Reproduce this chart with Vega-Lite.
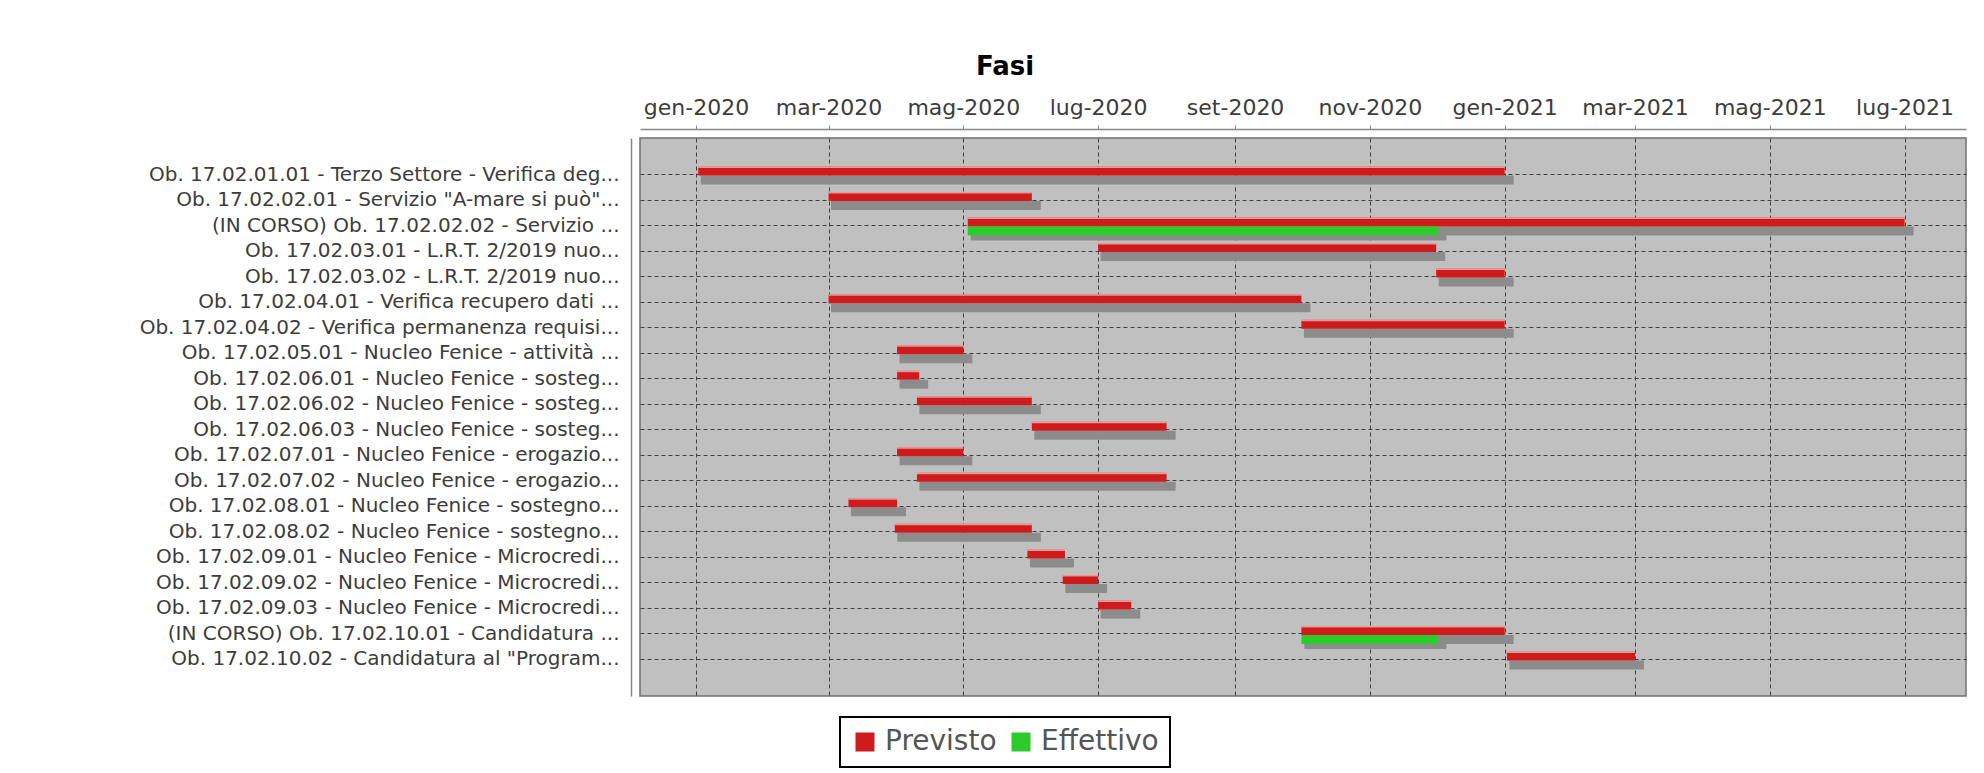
{
  "$schema": "https://vega.github.io/schema/vega-lite/v6.json",
  "autosize": {"type": "none"},
  "padding": {"left": 640, "top": 138, "right": 18, "bottom": 77},
  "width": 1326,
  "height": 558,
  "background": "white",
  "title": {"text": "Fasi", "font": "DejaVu Sans", "fontSize": 26, "fontWeight": "bold", "color": "#000000", "anchor": "middle", "frame": "group", "dx": -298, "offset": 16},
  "config": {"view": {"fill": "#c0c0c0", "stroke": "#707070", "strokeWidth": 1.5}, "font": "DejaVu Sans", "legend": {"strokeWidth": 2}},
  "data": {"values": [
    {"task": "Ob. 17.02.01.01 - Terzo Settore - Verifica deg...", "serie": "Previsto", "start": "2020-01-02", "end": "2021-01-01"},
    {"task": "Ob. 17.02.02.01 - Servizio \"A-mare si può\"...", "serie": "Previsto", "start": "2020-03-01", "end": "2020-06-01"},
    {"task": "(IN CORSO) Ob. 17.02.02.02 - Servizio ...", "serie": "Previsto", "start": "2020-05-03", "end": "2021-07-01"},
    {"task": "(IN CORSO) Ob. 17.02.02.02 - Servizio ...", "serie": "Effettivo", "start": "2020-05-03", "end": "2020-12-02"},
    {"task": "Ob. 17.02.03.01 - L.R.T.  2/2019 nuo...", "serie": "Previsto", "start": "2020-07-01", "end": "2020-12-01"},
    {"task": "Ob. 17.02.03.02 - L.R.T. 2/2019 nuo...", "serie": "Previsto", "start": "2020-12-01", "end": "2021-01-01"},
    {"task": "Ob. 17.02.04.01 - Verifica recupero dati ...", "serie": "Previsto", "start": "2020-03-01", "end": "2020-10-01"},
    {"task": "Ob. 17.02.04.02 - Verifica permanenza requisi...", "serie": "Previsto", "start": "2020-10-01", "end": "2021-01-01"},
    {"task": "Ob. 17.02.05.01 - Nucleo Fenice - attività ...", "serie": "Previsto", "start": "2020-04-01", "end": "2020-05-01"},
    {"task": "Ob. 17.02.06.01 - Nucleo Fenice - sosteg...", "serie": "Previsto", "start": "2020-04-01", "end": "2020-04-11"},
    {"task": "Ob. 17.02.06.02 - Nucleo Fenice - sosteg...", "serie": "Previsto", "start": "2020-04-10", "end": "2020-06-01"},
    {"task": "Ob. 17.02.06.03 - Nucleo Fenice - sosteg...", "serie": "Previsto", "start": "2020-06-01", "end": "2020-08-01"},
    {"task": "Ob. 17.02.07.01 - Nucleo Fenice - erogazio...", "serie": "Previsto", "start": "2020-04-01", "end": "2020-05-01"},
    {"task": "Ob. 17.02.07.02 - Nucleo Fenice - erogazio...", "serie": "Previsto", "start": "2020-04-10", "end": "2020-08-01"},
    {"task": "Ob. 17.02.08.01 - Nucleo Fenice - sostegno...", "serie": "Previsto", "start": "2020-03-10", "end": "2020-04-01"},
    {"task": "Ob. 17.02.08.02 - Nucleo Fenice - sostegno...", "serie": "Previsto", "start": "2020-03-31", "end": "2020-06-01"},
    {"task": "Ob. 17.02.09.01 - Nucleo Fenice - Microcredi...", "serie": "Previsto", "start": "2020-05-30", "end": "2020-06-16"},
    {"task": "Ob. 17.02.09.02 - Nucleo Fenice - Microcredi...", "serie": "Previsto", "start": "2020-06-15", "end": "2020-07-01"},
    {"task": "Ob. 17.02.09.03 - Nucleo Fenice - Microcredi...", "serie": "Previsto", "start": "2020-07-01", "end": "2020-07-16"},
    {"task": "(IN CORSO) Ob. 17.02.10.01 - Candidatura ...", "serie": "Previsto", "start": "2020-10-01", "end": "2021-01-01"},
    {"task": "(IN CORSO) Ob. 17.02.10.01 - Candidatura ...", "serie": "Effettivo", "start": "2020-10-01", "end": "2020-12-02"},
    {"task": "Ob. 17.02.10.02 - Candidatura al \"Program...", "serie": "Previsto", "start": "2021-01-02", "end": "2021-03-01"}
  ]},
  "encoding": {
    "y": {
      "field": "task", "type": "nominal",
      "scale": {"paddingInner": 0, "paddingOuter": 0.93, "domain": [
        "Ob. 17.02.01.01 - Terzo Settore - Verifica deg...",
        "Ob. 17.02.02.01 - Servizio \"A-mare si può\"...",
        "(IN CORSO) Ob. 17.02.02.02 - Servizio ...",
        "Ob. 17.02.03.01 - L.R.T.  2/2019 nuo...",
        "Ob. 17.02.03.02 - L.R.T. 2/2019 nuo...",
        "Ob. 17.02.04.01 - Verifica recupero dati ...",
        "Ob. 17.02.04.02 - Verifica permanenza requisi...",
        "Ob. 17.02.05.01 - Nucleo Fenice - attività ...",
        "Ob. 17.02.06.01 - Nucleo Fenice - sosteg...",
        "Ob. 17.02.06.02 - Nucleo Fenice - sosteg...",
        "Ob. 17.02.06.03 - Nucleo Fenice - sosteg...",
        "Ob. 17.02.07.01 - Nucleo Fenice - erogazio...",
        "Ob. 17.02.07.02 - Nucleo Fenice - erogazio...",
        "Ob. 17.02.08.01 - Nucleo Fenice - sostegno...",
        "Ob. 17.02.08.02 - Nucleo Fenice - sostegno...",
        "Ob. 17.02.09.01 - Nucleo Fenice - Microcredi...",
        "Ob. 17.02.09.02 - Nucleo Fenice - Microcredi...",
        "Ob. 17.02.09.03 - Nucleo Fenice - Microcredi...",
        "(IN CORSO) Ob. 17.02.10.01 - Candidatura ...",
        "Ob. 17.02.10.02 - Candidatura al \"Program..."
      ]},
      "axis": {"title": null, "orient": "left", "offset": 9, "labelFontSize": 20, "labelColor": "#3c3c3c", "labelPadding": 12, "labelLimit": 0, "ticks": false, "domainColor": "#888888", "domainWidth": 1.5, "grid": true, "gridColor": "#404040", "gridDash": [4, 3], "gridWidth": 1, "bandPosition": 0.5}
    },
    "x": {
      "field": "start", "type": "temporal",
      "scale": {"type": "utc", "domain": [
        {"year": 2019, "month": 12, "date": 6, "hours": 16, "utc": true},
        {"year": 2021, "month": 7, "date": 28, "hours": 19, "utc": true}
      ]},
      "axis": {
        "title": null, "orient": "top", "offset": 9,
        "values": [
          {"year": 2020, "month": 1, "date": 1, "utc": true},
          {"year": 2020, "month": 3, "date": 1, "utc": true},
          {"year": 2020, "month": 5, "date": 1, "utc": true},
          {"year": 2020, "month": 7, "date": 1, "utc": true},
          {"year": 2020, "month": 9, "date": 1, "utc": true},
          {"year": 2020, "month": 11, "date": 1, "utc": true},
          {"year": 2021, "month": 1, "date": 1, "utc": true},
          {"year": 2021, "month": 3, "date": 1, "utc": true},
          {"year": 2021, "month": 5, "date": 1, "utc": true},
          {"year": 2021, "month": 7, "date": 1, "utc": true}
        ],
        "labelExpr": "['gen','feb','mar','apr','mag','giu','lug','ago','set','ott','nov','dic'][utcmonth(datum.value)] + '-' + utcyear(datum.value)",
        "labelFontSize": 22, "labelColor": "#3c3c3c", "labelPadding": 6, "labelFlush": false, "labelOverlap": false,
        "tickSize": 4, "tickColor": "#888888", "domainColor": "#888888", "domainWidth": 1.5,
        "grid": true, "gridColor": "#404040", "gridDash": [4, 3], "gridWidth": 1
      }
    },
    "x2": {"field": "end"}
  },
  "layer": [
    {
      "transform": [{"filter": "datum.serie === 'Previsto'"}],
      "mark": {"type": "bar", "color": "#8c8c8c", "height": 9, "yOffset": 5.5, "xOffset": 2.5, "x2Offset": 9}
    },
    {
      "transform": [{"filter": "datum.serie === 'Effettivo'"}],
      "mark": {"type": "bar", "color": "#8c8c8c", "height": 9, "yOffset": 10.5, "xOffset": 3, "x2Offset": 8}
    },
    {
      "transform": [{"filter": "datum.serie === 'Previsto'"}],
      "mark": {"type": "bar", "height": 9, "yOffset": -3.5},
      "encoding": {
        "color": {"field": "serie", "type": "nominal",
          "scale": {"domain": ["Previsto", "Effettivo"], "range": ["#cf1b1b", "#2bcb2b"]},
          "legend": {"orient": "none", "legendX": 200, "legendY": 579, "direction": "horizontal", "title": null, "symbolType": "square", "symbolSize": 361, "symbolStrokeWidth": 0, "symbolOpacity": 1, "labelFontSize": 28, "labelColor": "#555555", "labelOffset": 6, "columnPadding": 10, "padding": 11, "strokeColor": "#000000", "fillColor": "#ffffff"}
        }
      }
    },
    {
      "transform": [{"filter": "datum.serie === 'Previsto'"}],
      "mark": {"type": "bar", "height": 1.5, "yOffset": -7.25, "color": "#ffffff", "opacity": 0.55}
    },
    {
      "transform": [{"filter": "datum.serie === 'Effettivo'"}],
      "mark": {"type": "bar", "height": 9, "yOffset": 5.5},
      "encoding": {
        "color": {"field": "serie", "type": "nominal",
          "scale": {"domain": ["Previsto", "Effettivo"], "range": ["#cf1b1b", "#2bcb2b"]}}
      }
    }
  ]
}
